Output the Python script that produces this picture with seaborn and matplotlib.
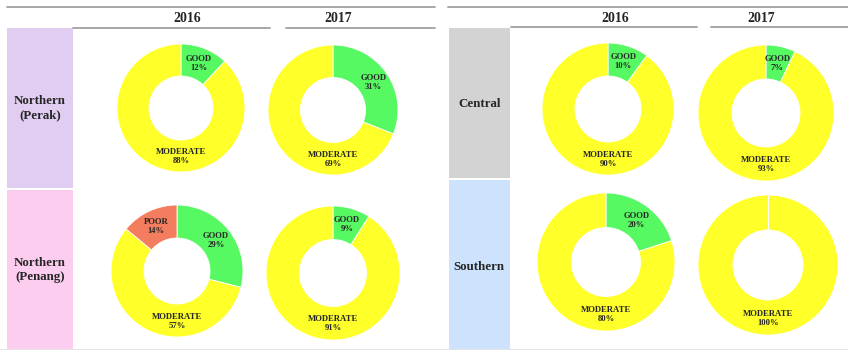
import numpy as np
import pandas as pd
import seaborn as sns
import matplotlib
matplotlib.use('Agg')
import matplotlib.pyplot as plt
from matplotlib.patches import Rectangle
from matplotlib.lines import Line2D

# data
regions = ['Northern\n(Perak)', 'Northern\n(Penang)', 'Central', 'Southern']
years = ['2016', '2017']
categories = ['GOOD', 'MODERATE', 'POOR']
good_2016 = [12, 29, 10, 20]
moderate_2016 = [88, 57, 90, 80]
poor_2016 = [0, 14, 0, 0]
good_2017 = [31, 9, 7, 0]
moderate_2017 = [69, 91, 93, 100]
poor_2017 = [0, 0, 0, 0]

region_colors = ['#E1CDF1', '#FDCDEF', '#D3D3D3', '#CCE2FD']
cat_colors = {'GOOD': '#57F963', 'MODERATE': '#FFFF2A', 'POOR': '#F37D5E'}

df = pd.DataFrame({
    'region': regions * 2,
    'year': ['2016'] * 4 + ['2017'] * 4,
    'GOOD': good_2016 + good_2017,
    'MODERATE': moderate_2016 + moderate_2017,
    'POOR': poor_2016 + poor_2017,
})

sns.set_theme(style='white')
plt.rcParams['font.family'] = ['Liberation Serif', 'DejaVu Serif']
plt.rcParams['font.weight'] = 'bold'

W, H = 848, 350
fig = plt.figure(figsize=(W / 100, H / 100), dpi=100)
fig.patch.set_facecolor('white')


def fx(x):
    return x / W


def fy(y):
    return 1 - y / H


# layout in pixels: (center x, center y, radius) per region/year
donut_pos = {
    (regions[0], '2016'): (181, 108, 64), (regions[0], '2017'): (333, 110, 65),
    (regions[1], '2016'): (177, 271, 66), (regions[1], '2017'): (333, 273, 67),
    (regions[2], '2016'): (608, 109, 66), (regions[2], '2017'): (766, 113, 68),
    (regions[3], '2016'): (606, 262, 69), (regions[3], '2017'): (768, 265, 70),
}
boxes = [(7, 28, 73, 188), (7, 190, 73, 350), (449, 28, 510, 178), (449, 180, 510, 350)]
label_pos = [(40, 108), (40, 270), (480, 104), (479, 267)]

# header lines and year titles
lines = [(7, 435, 7), (448, 848, 7), (73, 270, 28), (286, 435, 28),
         (511, 697, 27), (711, 848, 27)]
for x0, x1, y in lines:
    fig.add_artist(Line2D([fx(x0), fx(x1)], [fy(y), fy(y)], color='#A0A0A0', lw=1.3))
fig.add_artist(Line2D([fx(0), fx(848)], [fy(348.5), fy(348.5)], color='#E4E4E4', lw=0.8))
for x, yr in zip([187, 338, 615, 761], years * 2):
    fig.text(fx(x), fy(18), yr, ha='center', va='center', fontsize=10, fontweight='bold')

# region label boxes
for (x0, y0, x1, y1), c, (lx, ly), r in zip(boxes, region_colors, label_pos, regions):
    fig.add_artist(Rectangle((fx(x0), fy(y1)), fx(x1 - x0), (y1 - y0) / H,
                             facecolor=c, edgecolor='none'))
    fig.text(fx(lx), fy(ly), r, ha='center', va='center', fontsize=9.3,
             fontweight='bold', linespacing=1.3)

# donuts
for _, row in df.iterrows():
    cx, cy, rad = donut_pos[(row['region'], row['year'])]
    ax = fig.add_axes([fx(cx - rad), fy(cy + rad), 2 * rad / W, 2 * rad / H])
    cats = [c for c in categories if row[c] > 0]
    vals = [row[c] for c in cats]
    ax.pie(vals, colors=[cat_colors[c] for c in cats], startangle=90,
           counterclock=False, radius=1,
           wedgeprops=dict(width=0.5, edgecolor='white', linewidth=0.6))
    if len(vals) == 1:
        # a full ring still shows its seam at the start angle
        ax.plot([0, 0], [0.5, 1], color='white', lw=0.8)
    start = 90
    for c, v in zip(cats, vals):
        mid = start - v * 3.6 / 2
        start -= v * 3.6
        if c == 'MODERATE':
            ang, rr = -90, 0.76
        else:
            ang, rr = mid, 0.75
        ax.text(rr * np.cos(np.radians(ang)), rr * np.sin(np.radians(ang)),
                f'{c}\n{v}%', ha='center', va='center', fontsize=6.2,
                fontweight='bold', color='#262626', linespacing=1.15)
    ax.set_xlim(-1, 1)
    ax.set_ylim(-1, 1)
    ax.set_aspect('equal')
    ax.axis('off')

fig.savefig('out.png', dpi=100, facecolor='white')
